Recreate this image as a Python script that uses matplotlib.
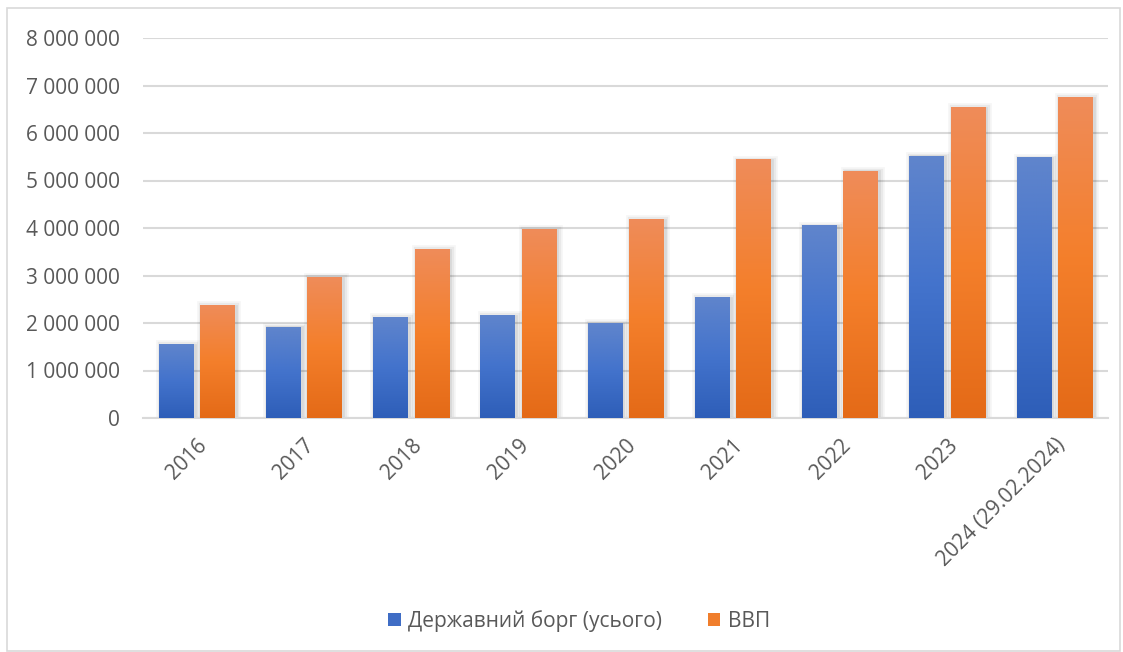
import numpy as np
import matplotlib
matplotlib.use("Agg")
import matplotlib.pyplot as plt
from matplotlib import patheffects as pe
from matplotlib.patches import Rectangle, Patch
from matplotlib.colors import LinearSegmentedColormap
from matplotlib.ticker import FuncFormatter

years = ["2016", "2017", "2018", "2019", "2020", "2021", "2022", "2023", "2024 (29.02.2024)"]
debt = [1560000, 1920000, 2130000, 2170000, 2000000, 2550000, 4060000, 5520000, 5490000]
gdp = [2380000, 2970000, 3560000, 3980000, 4190000, 5450000, 5210000, 6550000, 6760000]
series_names = ["Державний борг (усього)", "ВВП"]

plt.rcParams["font.family"] = ["Open Sans", "DejaVu Sans"]
TXT = "#595959"
FS = 15

fig = plt.figure(figsize=(11.23, 6.52), dpi=100)
fig.patch.set_facecolor("white")
fig.add_artist(Rectangle((7 / 1123, 1 - 651 / 652), 1113 / 1123, 643 / 652,
                         transform=fig.transFigure, fill=False,
                         edgecolor="#D9D9D9", linewidth=1.2))

ax = fig.add_axes([143 / 1123, 1 - 418 / 652, (1108 - 143) / 1123, (418 - 38) / 652])
ax.set_xlim(-0.5, len(years) - 0.5)
ax.set_ylim(0, 8000000)
ax.set_yticks(np.arange(0, 8000001, 1000000))
ax.yaxis.set_major_formatter(FuncFormatter(lambda v, p: f"{int(v):,}".replace(",", " ")))
ax.grid(axis="y", color="#D9D9D9", linewidth=1.5)
ax.set_axisbelow(True)
for s in ["top", "right", "left"]:
    ax.spines[s].set_visible(False)
ax.spines["bottom"].set_color("#D9D9D9")
ax.spines["bottom"].set_linewidth(1.5)
ax.tick_params(axis="both", length=0, colors=TXT, labelsize=FS)
ax.tick_params(axis="y", pad=16.5)

x = np.arange(len(years))
w = 0.32
gap = 0.065

blue_cmap = LinearSegmentedColormap.from_list("b", ["#2E5EB8", "#4373CC", "#6085CC"])
orange_cmap = LinearSegmentedColormap.from_list("o", ["#E46A17", "#F47F2B", "#EF8C5A"])
grad = np.linspace(0, 1, 256).reshape(-1, 1)

# soft drop shadow, slightly to the right and below
shadow = [pe.Stroke(offset=(1.5, -1), linewidth=7, foreground="black", alpha=0.035),
          pe.Stroke(offset=(1.5, -1), linewidth=4.5, foreground="black", alpha=0.05),
          pe.Stroke(offset=(1, -0.5), linewidth=2, foreground="black", alpha=0.07),
          pe.Normal()]

for vals, offs, cmap in [(debt, -(w + gap) / 2, blue_cmap), (gdp, (w + gap) / 2, orange_cmap)]:
    bars = ax.bar(x + offs, vals, width=w, color="none", edgecolor=(0, 0, 0, 0), zorder=2)
    for b in bars:
        b.set_path_effects(shadow)
        x0, y0 = b.get_x(), b.get_y()
        im = ax.imshow(grad, extent=(x0, x0 + b.get_width(), y0, y0 + b.get_height()),
                       origin="lower", cmap=cmap, aspect="auto", zorder=3,
                       interpolation="bilinear")
        im.set_clip_path(b)

ax.set_xticks(x)
ax.set_xticklabels(years, rotation=45, ha="right", va="top", rotation_mode="anchor")
ax.tick_params(axis="x", pad=12)

handles = [Patch(facecolor="#3F6DC5", edgecolor="none"), Patch(facecolor="#F07E2C", edgecolor="none")]
fig.legend(handles, series_names, loc="center", bbox_to_anchor=(579 / 1123, 1 - 621 / 652),
           ncol=2, frameon=False, fontsize=FS, labelcolor=TXT, handlelength=0.6,
           handleheight=0.6, handletextpad=0.35, columnspacing=2.2)

fig.savefig("out.png", dpi=100, facecolor="white")
